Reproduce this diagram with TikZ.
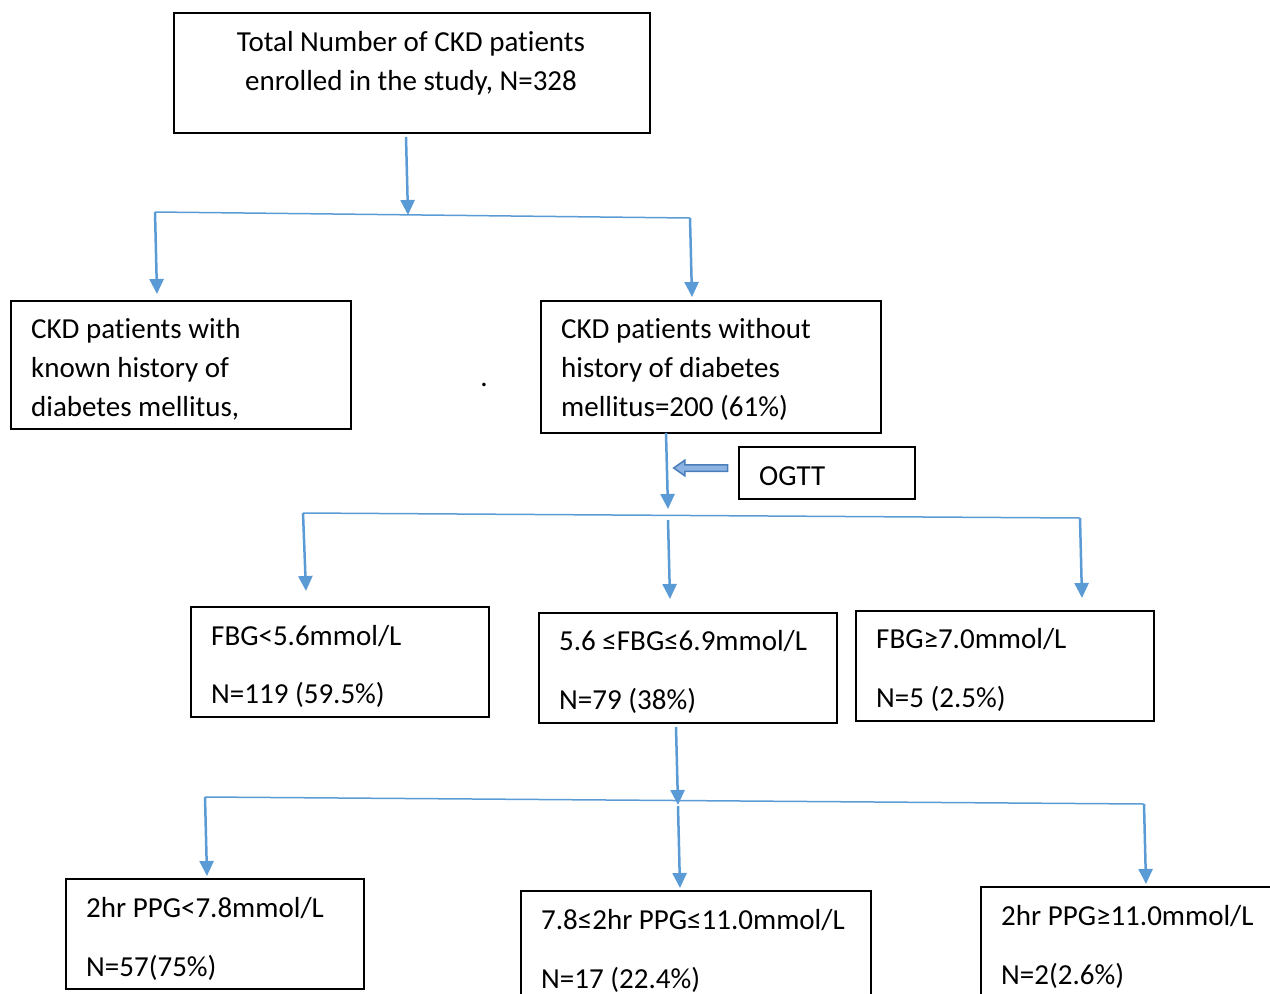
\documentclass[tikz,border=0pt]{standalone}
\usepackage{fontspec}
\setmainfont{Carlito}[Ligatures={NoCommon}]
\usetikzlibrary{arrows.meta,shapes.arrows}
\definecolor{lblue}{HTML}{5B9BD5}
\definecolor{ablue}{HTML}{4A7EBB}
\definecolor{lfill}{HTML}{8DB3E2}
\begin{document}
\begin{tikzpicture}[x=1pt,y=-1pt,
  box/.style={draw=black,line width=1.8pt,anchor=north west,inner sep=0pt},
  txt/.style={anchor=base west,inner sep=0pt,font=\fontsize{29}{39}\selectfont},
  conn/.style={lblue,line width=2.5pt,-{Triangle[width=14pt,length=15pt]}},
  bar/.style={lblue,line width=1.5pt}]
\useasboundingbox (0,0) rectangle (1270,994);
\clip (0,0) rectangle (1270,994);

% boxes
\node[box,minimum width=476pt,minimum height=120pt] (top) at (173,12) {};
\node[box,minimum width=340pt,minimum height=128pt] (known) at (10,300) {};
\node[box,minimum width=340pt,minimum height=132pt] (without) at (540,300) {};
\node[box,minimum width=176pt,minimum height=52pt] (ogtt) at (738,446) {};
\node[box,minimum width=298pt,minimum height=110pt] (fbgA) at (190,606) {};
\node[box,minimum width=298pt,minimum height=110pt] (fbgB) at (538,612) {};
\node[box,minimum width=298pt,minimum height=110pt] (fbgC) at (855,610) {};
\node[box,minimum width=298pt,minimum height=110pt] (ppgA) at (65,878) {};
\node[box,minimum width=350pt,minimum height=140pt] (ppgB) at (520,890) {};
\node[box,minimum width=330pt,minimum height=140pt] (ppgC) at (980,886) {};

% texts
\node[txt,anchor=base] (t1) at (411,51) {Total Number of CKD patients};
\node[txt,anchor=base] (t2) at (411,90) {enrolled in the study, N=328};
\node[txt] (k1) at (31,338) {CKD patients with};
\node[txt] (k2) at (31,377) {known history of};
\node[txt] (k3) at (31,416) {diabetes mellitus,};
\node[txt,anchor=base] (dot) at (484,386) {.};
\node[txt] (w1) at (561,338) {CKD patients without};
\node[txt] (w2) at (561,377) {history of diabetes};
\node[txt] (w3) at (561,416) {mellitus=200 (61\%)};
\node[txt] (o1) at (759,485) {OGTT};
\node[txt] (a1) at (211,645) {FBG<5.6mmol/L};
\node[txt] (a2) at (211,703) {N=119 (59.5\%)};
\node[txt] (b1) at (559,650) {5.6 ≤FBG≤6.9mmol/L};
\node[txt] (b2) at (559,709) {N=79 (38\%)};
\node[txt] (c1) at (876,648) {FBG≥7.0mmol/L};
\node[txt] (c2) at (876,707) {N=5 (2.5\%)};
\node[txt] (p1) at (86,917) {2hr PPG<7.8mmol/L};
\node[txt] (p2) at (86,976) {N=57(75\%)};
\node[txt] (q1) at (541,929) {7.8≤2hr PPG≤11.0mmol/L};
\node[txt] (q2) at (541,988) {N=17 (22.4\%)};
\node[txt] (r1) at (1001,925) {2hr PPG≥11.0mmol/L};
\node[txt] (r2) at (1001,984) {N=2(2.6\%)};

% OGTT arrow
\node[single arrow,shape border rotate=180,draw=ablue,fill=lfill,line width=1.5pt,
      minimum height=54pt,minimum width=0pt,inner sep=2.5pt,
      single arrow head extend=4.5pt,single arrow tip angle=70] (ogttarrow) at (703,468) {};

% junction coordinates
\coordinate (s1) at (406,137);
\coordinate (e1) at (408,215);
\coordinate (L1) at (155,212);
\coordinate (R1) at (690,218);
\coordinate (L1e) at (157,294);
\coordinate (R1e) at (692,297);
\coordinate (s2) at (666,433);
\coordinate (e2) at (668,509);
\coordinate (L2) at (303,513);
\coordinate (M2) at (668,520);
\coordinate (R2) at (1080,518);
\coordinate (L2e) at (306,591);
\coordinate (M2e) at (670,599);
\coordinate (R2e) at (1082,598);
\coordinate (s3) at (676,727);
\coordinate (e3) at (678,805);
\coordinate (L3) at (205,797);
\coordinate (M3) at (678,806);
\coordinate (R3) at (1144,804);
\coordinate (L3e) at (207,876);
\coordinate (M3e) at (680,888);
\coordinate (R3e) at (1146,884);

% connectors
\draw[bar] (L1) -- (R1);
\draw[conn] (s1) -- (e1);
\draw[conn] (L1) -- (L1e);
\draw[conn] (R1) -- (R1e);
\draw[conn] (s2) -- (e2);
\draw[bar] (L2) -- (R2);
\draw[conn] (L2) -- (L2e);
\draw[conn] (M2) -- (M2e);
\draw[conn] (R2) -- (R2e);
\draw[conn] (s3) -- (e3);
\draw[bar] (L3) -- (R3);
\draw[conn] (L3) -- (L3e);
\draw[conn] (M3) -- (M3e);
\draw[conn] (R3) -- (R3e);
\end{tikzpicture}
\end{document}
